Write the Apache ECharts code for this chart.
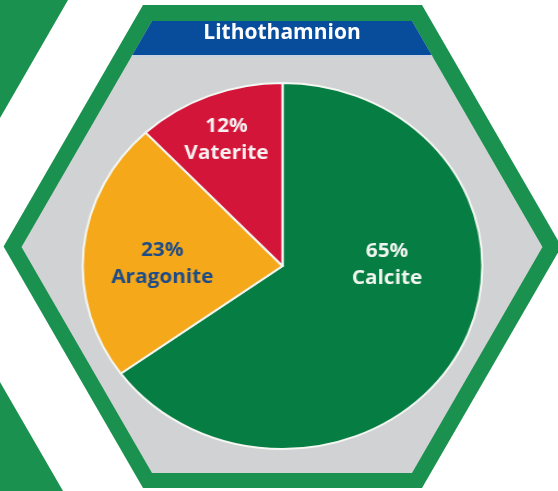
<!DOCTYPE html>
<html><head><meta charset="utf-8">
<script src="https://cdn.jsdelivr.net/npm/echarts@6/dist/echarts.min.js"></script>
<style>
html,body{margin:0;padding:0;background:#fff;overflow:hidden}
#wrap{position:relative;width:558px;height:491px}
#bg,#pie{position:absolute;left:0;top:0;width:558px;height:491px}
#pie{transform:scaleX(1.092);transform-origin:282.5px 266px}
</style></head><body>
<div id="wrap"><div id="bg"></div><div id="pie"></div></div>
<script>
// ---- data ----
const chartTitle = 'Lithothamnion';
const categories = ['Calcite', 'Aragonite', 'Vaterite'];
const values = [65, 23, 12];

// ---- styles ----
const sliceColors = ['#067d43', '#f6a81b', '#d4153a'];
const labelColors = ['#f2f6f0', '#1d4c88', '#f8f0f0'];
const labelOffsets = [[11.5, -43.5], [-16, 7], [-16.5, -38.5]];
const frameGreen = '#1b9150';
const innerGray = '#d1d2d4';
const titleBlue = '#084c9c';
const FONT = '"Open Sans", "DejaVu Sans", sans-serif';

// hexagon helper (decorative frame)
function hexagon(cx, cy, halfH, halfTop) {
  const k = Math.tan(Math.PI / 6);
  const side = halfTop + halfH * k;
  return [[cx - halfTop, cy - halfH], [cx + halfTop, cy - halfH], [cx + side, cy],
          [cx + halfTop, cy + halfH], [cx - halfTop, cy + halfH], [cx - side, cy]];
}
const k30 = Math.tan(Math.PI / 6);

const bg = echarts.init(document.getElementById('bg'), null, {renderer: 'canvas'});
bg.setOption({
  animation: false,
  backgroundColor: '#ffffff',
  graphic: [
    {type: 'polygon', shape: {points: [[0, 0], [68, 0], [0, 118]]}, style: {fill: frameGreen}, silent: true},
    {type: 'polygon', shape: {points: [[0, 382], [63, 491], [0, 491]]}, style: {fill: frameGreen}, silent: true},
    {type: 'polygon', shape: {points: hexagon(282.5, 246.5, 241.5, 139.5)}, style: {fill: frameGreen}, silent: true},
    {type: 'polygon', shape: {points: hexagon(282, 247, 226, 130)}, style: {fill: innerGray}, silent: true},
    {type: 'polygon', shape: {points: [[152, 21], [412, 21], [412 + 34 * k30, 55], [152 - 34 * k30, 55]]},
      style: {fill: titleBlue}, silent: true},
    {type: 'line', shape: {x1: 152 - 35 * k30, y1: 56, x2: 412 + 35 * k30, y2: 56},
      style: {stroke: '#c4d0e0', lineWidth: 1.5}, silent: true},
    {type: 'text', x: 282, y: 33,
      style: {text: chartTitle, fill: '#ffffff', font: 'bold 21px ' + FONT, align: 'center', verticalAlign: 'middle'},
      silent: true}
  ]
});

const pie = echarts.init(document.getElementById('pie'), null, {renderer: 'canvas'});
pie.setOption({
  animation: false,
  series: [{
    type: 'pie',
    center: [282.5, 266],
    radius: 183,
    startAngle: 90,
    clockwise: true,
    silent: true,
    emphasis: {disabled: true},
    itemStyle: {borderColor: '#f4f7f2', borderWidth: 2},
    label: {
      show: true,
      position: 'inside',
      formatter: '{c}%\n{b}',
      fontFamily: FONT,
      fontWeight: 'bold',
      fontSize: 19,
      lineHeight: 27,
      align: 'center'
    },
    labelLine: {show: false},
    data: categories.map((name, i) => ({
      name: name,
      value: values[i],
      itemStyle: {color: sliceColors[i]},
      label: {color: labelColors[i], offset: labelOffsets[i]}
    }))
  }]
});
</script>
</body></html>
